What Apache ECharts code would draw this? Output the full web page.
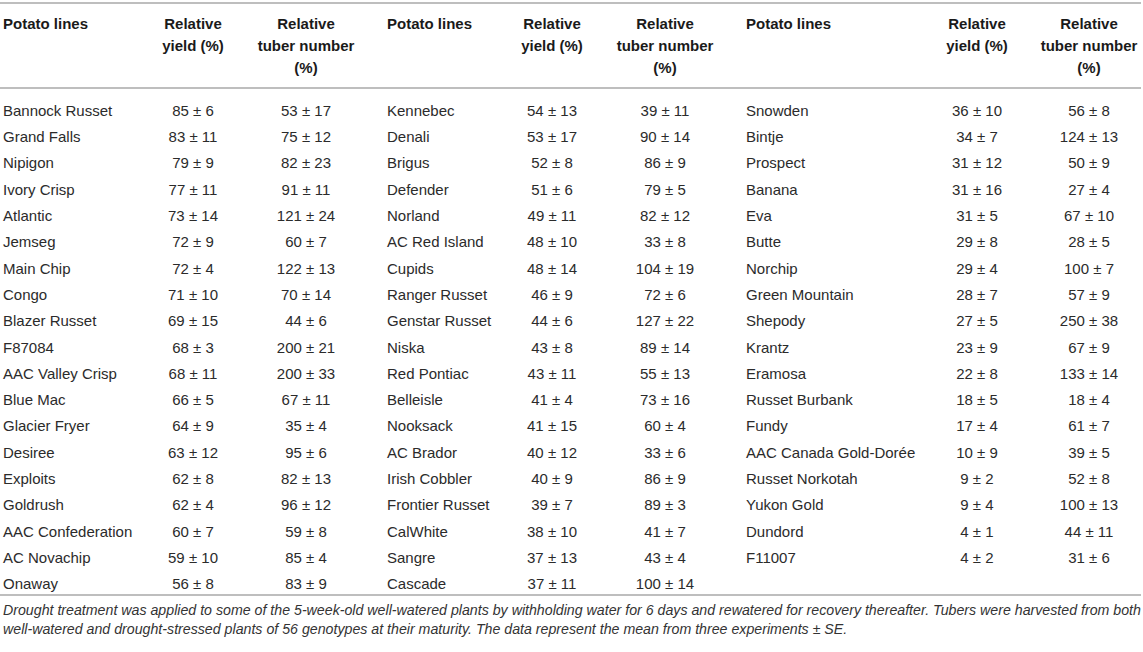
<!DOCTYPE html>
<html>
<head>
<meta charset="utf-8">
<script src="https://cdn.jsdelivr.net/npm/echarts@6/dist/echarts.min.js"></script>
<style>
  html, body { margin: 0; padding: 0; background: #fff; }
  #chart { width: 1143px; height: 652px; }
</style>
</head>
<body>
<div id="chart"></div>
<script>
// potato lines, in reading order (down each block, then next block)
var names = [
  'Bannock Russet', 'Grand Falls', 'Nipigon', 'Ivory Crisp', 'Atlantic', 'Jemseg', 'Main Chip', 'Congo',
  'Blazer Russet', 'F87084', 'AAC Valley Crisp', 'Blue Mac', 'Glacier Fryer', 'Desiree', 'Exploits',
  'Goldrush', 'AAC Confederation', 'AC Novachip', 'Onaway',
  'Kennebec', 'Denali', 'Brigus', 'Defender', 'Norland', 'AC Red Island', 'Cupids', 'Ranger Russet',
  'Genstar Russet', 'Niska', 'Red Pontiac', 'Belleisle', 'Nooksack', 'AC Brador', 'Irish Cobbler',
  'Frontier Russet', 'CalWhite', 'Sangre', 'Cascade',
  'Snowden', 'Bintje', 'Prospect', 'Banana', 'Eva', 'Butte', 'Norchip', 'Green Mountain', 'Shepody',
  'Krantz', 'Eramosa', 'Russet Burbank', 'Fundy', 'AAC Canada Gold-Dorée', 'Russet Norkotah',
  'Yukon Gold', 'Dundord', 'F11007'
];
var yieldMean = [
  85, 83, 79, 77, 73, 72, 72, 71, 69, 68, 68, 66, 64, 63, 62, 62, 60, 59, 56,
  54, 53, 52, 51, 49, 48, 48, 46, 44, 43, 43, 41, 41, 40, 40, 39, 38, 37, 37,
  36, 34, 31, 31, 31, 29, 29, 28, 27, 23, 22, 18, 17, 10, 9, 9, 4, 4
];
var yieldSE = [
  6, 11, 9, 11, 14, 9, 4, 10, 15, 3, 11, 5, 9, 12, 8, 4, 7, 10, 8,
  13, 17, 8, 6, 11, 10, 14, 9, 6, 8, 11, 4, 15, 12, 9, 7, 10, 13, 11,
  10, 7, 12, 16, 5, 8, 4, 7, 5, 9, 8, 5, 4, 9, 2, 4, 1, 2
];
var tuberMean = [
  53, 75, 82, 91, 121, 60, 122, 70, 44, 200, 200, 67, 35, 95, 82, 96, 59, 85, 83,
  39, 90, 86, 79, 82, 33, 104, 72, 127, 89, 55, 73, 60, 33, 86, 89, 41, 43, 100,
  56, 124, 50, 27, 67, 28, 100, 57, 250, 67, 133, 18, 61, 39, 52, 100, 44, 31
];
var tuberSE = [
  17, 12, 23, 11, 24, 7, 13, 14, 6, 21, 33, 11, 4, 6, 13, 12, 8, 4, 9,
  11, 14, 9, 5, 12, 8, 19, 6, 22, 14, 13, 16, 4, 6, 9, 3, 7, 4, 14,
  8, 13, 9, 4, 10, 5, 7, 9, 38, 9, 14, 4, 7, 5, 8, 13, 11, 6
];
var headers = ['Potato lines', 'Relative\nyield (%)', 'Relative\ntuber number\n(%)'];
var footnote = [
  'Drought treatment was applied to some of the 5-week-old well-watered plants by withholding water for 6 days and rewatered for recovery thereafter. Tubers were harvested from both',
  'well-watered and drought-stressed plants of 56 genotypes at their maturity. The data represent the mean from three experiments \u00b1 SE.'
];

// layout: three side-by-side blocks of 19 rows
var rowsPerBlock = 19;
var nameX = [3, 387, 746];
var yieldX = [193, 552, 977];
var tuberX = [306, 665, 1089];
var textColor = '#2b2b2b';
var ruleColor = '#a8a8a8';
var font = 'Liberation Sans, Arial, Helvetica, sans-serif';

var rowCats = [];
for (var r = 0; r < rowsPerBlock; r++) rowCats.push(r);

var items = names.map(function (n, i) {
  return [Math.floor(i / rowsPerBlock), i % rowsPerBlock, i];
});

function cellText(x, y, str, align) {
  return {
    type: 'text',
    style: {
      x: x, y: y, text: str,
      fill: textColor,
      font: '15px ' + font,
      textAlign: align,
      textVerticalAlign: 'middle'
    }
  };
}

function renderItem(params, api) {
  var b = api.value(0), row = api.value(1), i = api.value(2);
  var y = api.coord([0, row])[1];
  var xn = api.coord([nameX[b], row])[0];
  var xy = api.coord([yieldX[b], row])[0];
  var xt = api.coord([tuberX[b], row])[0];
  return {
    type: 'group',
    children: [
      cellText(xn, y, names[i], 'left'),
      cellText(xy, y, yieldMean[i] + ' \u00b1 ' + yieldSE[i], 'center'),
      cellText(xt, y, tuberMean[i] + ' \u00b1 ' + tuberSE[i], 'center')
    ]
  };
}

var graphics = [];
function rule(y) {
  graphics.push({
    type: 'line',
    shape: { x1: 0, y1: y, x2: 1141, y2: y },
    style: { stroke: ruleColor, lineWidth: 1.5 }
  });
}
rule(3);
rule(88);
rule(595);

for (var b = 0; b < 3; b++) {
  [[nameX[b], 'left', headers[0]], [yieldX[b], 'center', headers[1]], [tuberX[b], 'center', headers[2]]]
    .forEach(function (h) {
      graphics.push({
        type: 'text',
        x: h[0], y: 12,
        style: {
          text: h[2],
          fill: '#1a1a1a',
          font: 'bold 15px ' + font,
          lineHeight: 22,
          textAlign: h[1],
          textVerticalAlign: 'top'
        }
      });
    });
}

footnote.forEach(function (line, k) {
  graphics.push({
    type: 'text',
    x: 3, y: 610 + k * 18.5,
    style: {
      text: line,
      fill: '#333',
      font: 'italic 14.2px ' + font,
      textAlign: 'left',
      textVerticalAlign: 'middle'
    }
  });
});

var chart = echarts.init(document.getElementById('chart'), null, { renderer: 'svg' });
chart.setOption({
  animation: false,
  grid: { left: 0, right: 0, top: 97, height: 500 },
  xAxis: { type: 'value', min: 0, max: 1143, show: false },
  yAxis: { type: 'category', data: rowCats, inverse: true, show: false },
  graphic: graphics,
  series: [{
    type: 'custom',
    renderItem: renderItem,
    data: items,
    silent: true
  }]
});
</script>
</body>
</html>
